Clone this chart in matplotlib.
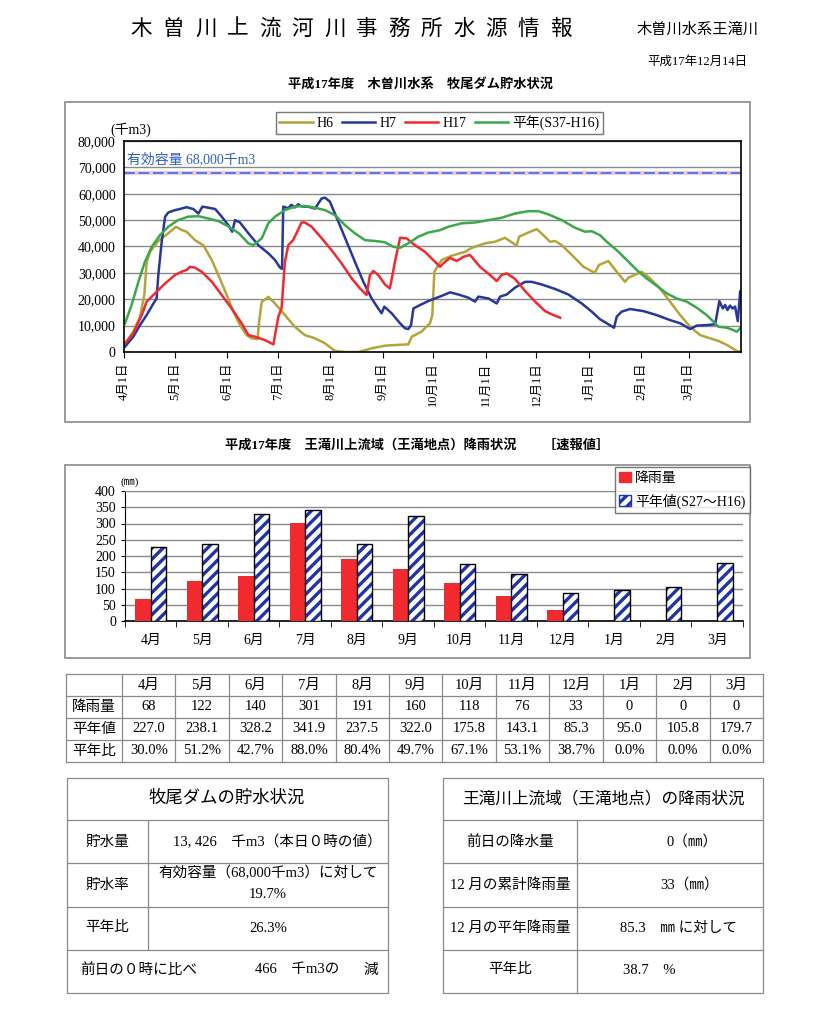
import numpy as np
import matplotlib.pyplot as plt
from matplotlib.patches import Rectangle, Patch

plt.rcParams['font.family'] = ['Liberation Serif', 'Noto Sans CJK JP']
plt.rcParams['hatch.linewidth'] = 2.4

W, H = 820, 1009

# ---- storage (千m3), x = days since Apr 1 ----
h6_day = [0.6, 5.5, 9.5, 12, 13.4, 15.4, 20.3, 26.2, 30.8, 34, 37, 42, 46.9, 51.9, 55.8,
          60.8, 64.7, 68.6, 72.6, 75.5, 79, 79.9, 81.5, 85.4, 89.3, 95.2, 101, 107, 113,
          118.9, 124.8, 130.7, 138.6, 146.5, 154.4, 162.3, 168.2, 170.2, 176, 181, 182.4,
          183.6, 186, 188, 193.9, 201.8, 205.7, 213.6, 219.5, 225.4, 232.3, 233.7, 239.2,
          244.2, 248.1, 252, 255, 259, 264.9, 271.8, 278.5, 281, 286.5, 291.5, 296.4,
          298.4, 306.3, 311.2, 317.1, 323, 329, 334.9, 340.8, 346.7, 351.6, 356.6, 362.5, 364.9]
h6_val = [2700, 7800, 13400, 21600, 34200, 38000, 42100, 45000, 47500, 46300, 45600, 42400,
          40500, 34900, 29200, 21600, 15300, 10200, 6400, 5200, 4900, 11400, 19000, 20900,
          18400, 14000, 9600, 6400, 5200, 3300, 400, 0, 0, 1400, 2400, 2700, 2900, 5800,
          7700, 10900, 14000, 30400, 33000, 34900, 36500, 38000, 39500, 41200, 41800, 43300,
          40300, 43700, 45300, 46600, 44300, 41800, 42100, 40500, 36800, 32300, 30000, 33000,
          34500, 30400, 26600, 28200, 30400, 27900, 24100, 19100, 14000, 9600, 6400, 5200,
          4200, 2700, 400, 0]

h7_day = [0.6, 5.5, 9.5, 13.4, 17.4, 19.3, 20.3, 22.3, 24.3, 26.2, 30.2, 33, 37, 41, 44,
          46.4, 50, 54, 57.8, 61.7, 64, 65.7, 68.6, 73.6, 79.5, 85.4, 89.3, 92.3, 93.5,
          94.2, 97, 99, 101, 103, 105, 109, 113, 116.9, 118.9, 121.8, 126.8, 131.7, 136.6,
          141.6, 146.5, 150.4, 152.4, 154, 158.3, 163.3, 166.2, 168.2, 169.8, 171.2, 175.1,
          180, 184, 188, 192.9, 197.8, 203.7, 207.7, 209.6, 215.6, 220.5, 222.5, 226.4,
          231.3, 237.3, 241.2, 247.1, 255, 262.9, 270.8, 276.7, 281.6, 285.6, 289.9, 291.5,
          294.4, 299.4, 307.3, 315.1, 323, 329, 334.9, 338.8, 344.7, 349.7, 350.7, 352.2,
          354.2, 355.6, 357, 358.5, 360.1, 361.5, 363.1, 364.5]
h7_val = [2000, 5800, 10200, 14000, 18400, 20300, 29200, 41800, 51300, 52900, 53800, 54200,
          54900, 54200, 52500, 55100, 54700, 54200, 51300, 48100, 45600, 50000, 49100, 45000,
          40500, 37400, 34900, 32000, 31500, 55100, 54500, 55800, 54800, 56000, 55200, 55100,
          54400, 58200, 58500, 57000, 49400, 41800, 34200, 26600, 20300, 16500, 14700, 17200,
          14700, 10900, 9000, 8700, 10200, 16500, 17800, 19300, 20300, 21300, 22600, 21800,
          20600, 19100, 21000, 20300, 18400, 21000, 21800, 24400, 26600, 26600, 25600, 23900,
          21800, 18400, 15300, 12400, 10900, 9200, 13400, 15300, 16300, 15500, 14000, 12100,
          10900, 8700, 10000, 10200, 10500, 14000, 19300, 16500, 17800, 15900, 17600, 16500,
          17200, 11700, 22900]

h17_day = [0.6, 5.5, 10.5, 13.4, 18.3, 24.3, 30.2, 34, 37, 39, 42, 46, 52, 57.8, 63.7, 69.6,
           73.6, 77.5, 83.4, 88.4, 91.3, 93.2, 95.2, 97.2, 100, 102, 105, 107, 111, 117,
           122.8, 128.7, 134.7, 139.6, 143.5, 145.5, 147.5, 150.4, 154.4, 157.3, 160.3,
           163.3, 167.2, 172.1, 178, 184, 187, 188.9, 192.9, 196.8, 200.8, 204.7, 210.6,
           216.5, 220.5, 223.4, 226.4, 231.3, 237.3, 243.2, 249.1, 254, 258]
h17_val = [3300, 7100, 14000, 19100, 22200, 26000, 29200, 30400, 31100, 32300, 32000, 30400,
           26600, 21600, 16500, 10900, 6400, 5800, 4500, 2900, 13400, 16500, 34200, 40500,
           42400, 45000, 49100, 49100, 47500, 43100, 38600, 33600, 27900, 24100, 21600, 29200,
           30700, 29200, 25600, 24100, 34200, 43300, 43100, 40500, 38000, 34200, 32300, 33600,
           35700, 34500, 36100, 36800, 32300, 29200, 26900, 29200, 29800, 27700, 23100, 19100,
           15500, 14000, 13000]

avg_day = [0.6, 4.5, 8.5, 12.4, 16.4, 21.3, 26.2, 32, 38, 44, 50, 56, 62, 68, 73.6, 76.5,
           81.5, 85.4, 89.3, 95.2, 101, 107, 113, 118.9, 124.8, 130.7, 136.6, 142.6, 148.5,
           154.4, 159.3, 163.3, 168.2, 174.1, 180, 187, 191.9, 199.8, 207.7, 215.6, 223.4,
           231.3, 239.2, 245.1, 251, 259, 266.8, 272.8, 276.7, 281.6, 285.6, 291.5, 297.4,
           303.3, 309.2, 315.1, 321.1, 327, 332.9, 338.8, 344.7, 349.7, 351.6, 356.6, 360.5,
           362.5, 364.9]
avg_val = [10900, 17800, 26600, 34200, 39900, 44300, 47500, 50000, 51300, 51500, 50600, 49600,
           47500, 45000, 41200, 40500, 43100, 48800, 51300, 53800, 55100, 55400, 54700, 53800,
           51900, 48100, 45000, 42400, 42100, 41600, 39900, 39500, 41200, 43700, 45300, 46200,
           47500, 48800, 49100, 50000, 50900, 52500, 53400, 53400, 52200, 50000, 47100, 45600,
           45800, 44300, 41800, 38600, 34900, 31100, 27900, 25100, 22200, 20300, 19100, 16800,
           14000, 10900, 9600, 9200, 8300, 7700, 9200]

capacity = 68000
month_start = [0, 30, 61, 91, 122, 153, 183, 214, 244, 275, 306, 334]
month_start_labels = ['4月1日', '5月1日', '6月1日', '7月1日', '8月1日', '9月1日',
                      '10月1日', '11月1日', '12月1日', '1月1日', '2月1日', '3月1日']

# ---- rainfall (mm) ----
months = ['4月', '5月', '6月', '7月', '8月', '9月', '10月', '11月', '12月', '1月', '2月', '3月']
rain = [68, 122, 140, 301, 191, 160, 118, 76, 33, 0, 0, 0]
normal = [227.0, 238.1, 328.2, 341.9, 237.5, 322.0, 175.8, 143.1, 85.3, 95.0, 105.8, 179.7]
ratio = [30.0, 51.2, 42.7, 88.0, 80.4, 49.7, 67.1, 53.1, 38.7, 0.0, 0.0, 0.0]

c_h6, c_h7, c_h17, c_avg = '#b3a43c', '#27389a', '#f02a2e', '#3ba84c'
grey = '#8a8a8a'


def box(x0, y0, x1, y1):
    return [x0 / W, 1 - y1 / H, (x1 - x0) / W, (y1 - y0) / H]


fig = plt.figure(figsize=(8.2, 10.09), dpi=100)
page = fig.add_axes([0, 0, 1, 1])
page.set_xlim(0, W)
page.set_ylim(H, 0)
page.axis('off')

# header
title = '木曽川上流河川事務所水源情報'
for i, ch in enumerate(title):
    page.text(141 + i * 32.3, 30, ch, fontsize=15.5, ha='center', va='center')
page.text(698, 30, '木曽川水系王滝川', fontsize=11, ha='center', va='center')
page.text(697, 62, '平成17年12月14日', fontsize=9, ha='center', va='center')
page.text(421, 84, '平成17年度　木曽川水系　牧尾ダム貯水状況', fontsize=9.5,
          ha='center', va='center', fontweight='bold')
page.text(417, 445, '平成17年度　王滝川上流域（王滝地点）降雨状況　　［速報値］', fontsize=9.5,
          ha='center', va='center', fontweight='bold')

# frames around the charts
page.add_patch(Rectangle((65, 102), 685, 320, fill=False, ec=grey, lw=1.2))
page.add_patch(Rectangle((65, 465), 685, 193, fill=False, ec=grey, lw=1.2))

# ---------------- storage chart ----------------
ax = fig.add_axes(box(124, 141, 741, 352))
ax.plot(h6_day, h6_val, color=c_h6, lw=1.8, label='H6')
ax.plot(h7_day, h7_val, color=c_h7, lw=1.8, label='H7')
ax.plot(h17_day, h17_val, color=c_h17, lw=1.8, label='H17')
ax.plot(avg_day, avg_val, color=c_avg, lw=1.8, label='平年(S37-H16)')
ax.axhline(capacity, color='#f2c8e4', lw=3, zorder=1)
ax.axhline(capacity, color='#3f7bd4', lw=1.3, dashes=(6, 2), zorder=1)
ax.text(2, 70400, '有効容量 68,000千m3', color='#2f5fc8', fontsize=10, va='bottom')
ax.set_xlim(0, 365)
ax.set_ylim(0, 80000)
ax.set_yticks(range(0, 80001, 10000))
ax.set_yticklabels([f'{v:,}' for v in range(0, 80001, 10000)], fontsize=10)
ax.set_xticks(month_start)
ax.set_xticklabels(month_start_labels, rotation=90, fontsize=9)
ax.tick_params(axis='x', length=4, direction='out')
ax.tick_params(axis='y', length=0, pad=6)
ax.grid(axis='y', color=grey, lw=1)
ax.set_axisbelow(True)
for s in ax.spines.values():
    s.set_color('black')
    s.set_linewidth(1.2)
ax.legend(loc='center', bbox_to_anchor=(0.511, 1.087), ncol=4, fontsize=10,
          frameon=True, fancybox=False, edgecolor='#555555', handlelength=2.4,
          handletextpad=0.3, columnspacing=0.6, borderpad=0.25)
page.text(110, 130, '(千m3)', fontsize=10, va='center')

# ---------------- rainfall chart ----------------
ax2 = fig.add_axes(box(125, 491, 743, 621))
x = np.arange(len(months))
ax2.bar(x - 0.15, rain, 0.3, color=c_h17, zorder=3)
ax2.bar(x + 0.15, normal, 0.3, facecolor='white', edgecolor='#1f34a6', hatch='///',
        lw=0, zorder=3)
ax2.bar(x + 0.15, normal, 0.3, facecolor='none', edgecolor='black', lw=1, zorder=4)
ax2.set_xlim(-0.5, 11.5)
ax2.set_ylim(0, 400)
ax2.set_yticks(range(0, 401, 50))
ax2.tick_params(axis='y', labelsize=10, length=3, direction='out')
ax2.set_xticks(x)
ax2.set_xticklabels(months, fontsize=10)
ax2.tick_params(axis='x', length=0, pad=9)
ax2.set_xticks(np.arange(-0.5, 12, 1), minor=True)
ax2.tick_params(axis='x', which='minor', length=4, direction='out')
ax2.grid(axis='y', color=grey, lw=1)
ax2.set_axisbelow(True)
ax2.spines['right'].set_visible(False)
ax2.spines['top'].set_color(grey)
ax2.spines['left'].set_color('black')
ax2.spines['bottom'].set_color('black')
ax2.spines['bottom'].set_linewidth(1.2)
handles = [Patch(facecolor=c_h17, edgecolor=c_h17),
           Patch(facecolor='white', edgecolor='#1f34a6', hatch='///')]
ax2.legend(handles, ['降雨量', '平年値(S27～H16)'], loc='upper right',
           bbox_to_anchor=(750 / W, 1 - 467 / H), bbox_transform=fig.transFigure,
           fontsize=10, frameon=True, fancybox=False, edgecolor='#555555',
           handlelength=0.8, handleheight=0.8, handletextpad=0.3, labelspacing=0.6,
           borderpad=0.35, borderaxespad=0)
page.text(121, 482, '(㎜)', fontsize=8, va='center')

# ---------------- monthly table ----------------
tx0, tx1, tcol0 = 66, 763, 122
row_y = [674, 696, 718, 740, 762]
cw = (tx1 - tcol0) / 12
for yy in row_y:
    page.plot([tx0, tx1], [yy, yy], color=grey, lw=0.9)
page.plot([tx0, tx0], [row_y[0], row_y[-1]], color=grey, lw=0.9)
for j in range(13):
    xx = tcol0 + j * cw
    page.plot([xx, xx], [row_y[0], row_y[-1]], color=grey, lw=0.9)
rows = [months,
        [str(v) for v in rain],
        [f'{v:.1f}' for v in normal],
        [f'{v:.1f}%' for v in ratio]]
row_names = ['', '降雨量', '平年値', '平年比']
for r in range(4):
    yc = (row_y[r] + row_y[r + 1]) / 2
    page.text((tx0 + tcol0) / 2, yc, row_names[r], fontsize=10.5, ha='center', va='center')
    for j in range(12):
        page.text(tcol0 + (j + 0.5) * cw, yc, rows[r][j], fontsize=10.5,
                  ha='center', va='center')

# ---------------- bottom boxes ----------------
lines_y = [820, 863, 907, 950]

# left box: dam storage
page.add_patch(Rectangle((67, 778), 321, 215, fill=False, ec=grey, lw=0.9))
for yy in lines_y:
    page.plot([67, 388], [yy, yy], color=grey, lw=0.9)
page.plot([148, 148], [820, 950], color=grey, lw=0.9)
page.text(227, 799, '牧尾ダムの貯水状況', fontsize=12.5, ha='center', va='center')
page.text(107, 842, '貯水量', fontsize=10.5, ha='center', va='center')
page.text(382, 842, '13, 426　千m3（本日０時の値）', fontsize=10.5, ha='right', va='center')
page.text(107, 885, '貯水率', fontsize=10.5, ha='center', va='center')
page.text(268, 873, '有効容量（68,000千m3）に対して', fontsize=10.5, ha='center', va='center')
page.text(268, 894, '19.7%', fontsize=10.5, ha='center', va='center')
page.text(107, 928, '平年比', fontsize=10.5, ha='center', va='center')
page.text(268, 928, '26.3%', fontsize=10.5, ha='center', va='center')
page.text(80, 970, '前日の０時に比べ', fontsize=10.5, ha='left', va='center')
page.text(255, 970, '466　千m3の', fontsize=10.5, ha='left', va='center')
page.text(363, 970, '減', fontsize=10.5, ha='left', va='center')

# right box: rainfall
page.add_patch(Rectangle((443, 778), 320, 215, fill=False, ec=grey, lw=0.9))
for yy in lines_y:
    page.plot([443, 763], [yy, yy], color=grey, lw=0.9)
page.plot([577, 577], [820, 993], color=grey, lw=0.9)
page.text(603, 799, '王滝川上流域（王滝地点）の降雨状況', fontsize=12, ha='center', va='center')
page.text(510, 842, '前日の降水量', fontsize=10.5, ha='center', va='center')
page.text(692, 842, '0（㎜）', fontsize=10.5, ha='center', va='center')
page.text(510, 885, '12 月の累計降雨量', fontsize=10.5, ha='center', va='center')
page.text(690, 885, '33（㎜）', fontsize=10.5, ha='center', va='center')
page.text(510, 928, '12 月の平年降雨量', fontsize=10.5, ha='center', va='center')
page.text(679, 928, '85.3　㎜ に対して', fontsize=10.5, ha='center', va='center')
page.text(510, 970, '平年比', fontsize=10.5, ha='center', va='center')
page.text(623, 970, '38.7　%', fontsize=10.5, ha='left', va='center')

fig.savefig('out.png', dpi=100)
